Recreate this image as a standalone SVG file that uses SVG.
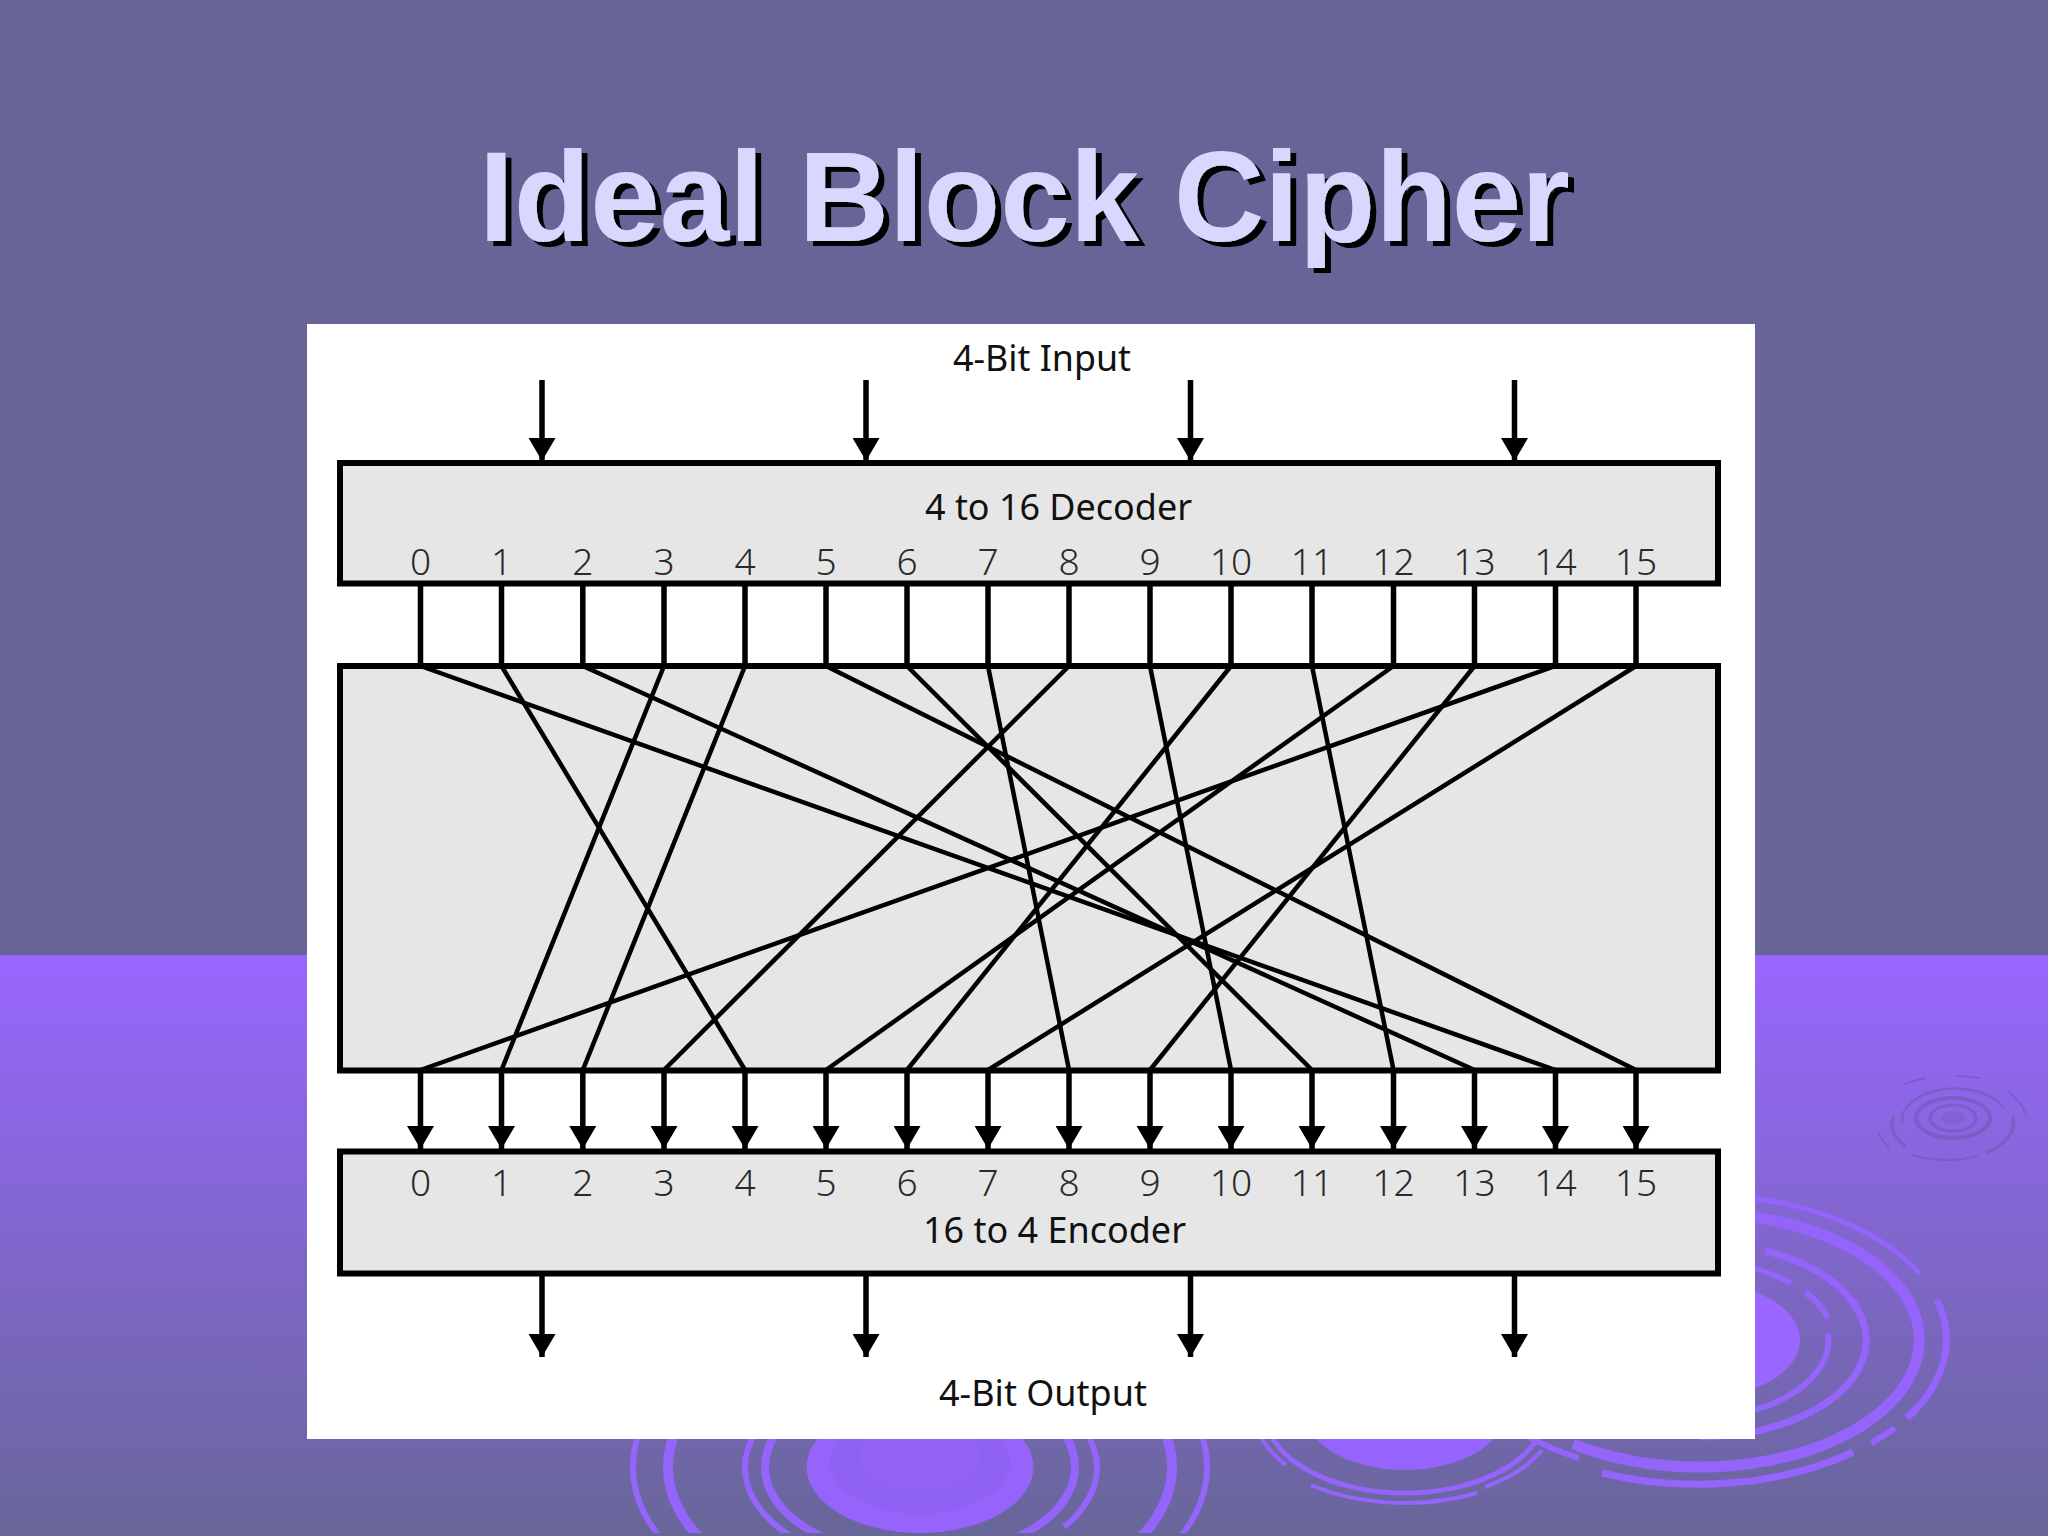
<svg xmlns="http://www.w3.org/2000/svg" width="2048" height="1536" viewBox="0 0 2048 1536">
<style>
.r{fill:none;stroke:#9564fb;stroke-linecap:butt}
.e{fill:none;stroke:#6d5ab4;stroke-linecap:round;opacity:.6}
.box{fill:#e6e6e7;stroke:#000;stroke-width:6}
.w{stroke:#000;stroke-width:5.500;fill:none}
.p{stroke:#000;stroke-width:4.500;fill:none}
.a{stroke:#000;stroke-width:5.500;fill:none;marker-end:url(#head)}
.l{font-family:"Noto Sans","Open Sans",sans-serif;font-size:37px;fill:#111}
.n{font-family:"Noto Sans","Open Sans",sans-serif;font-size:37px;font-weight:350;fill:#2a2a2a;text-anchor:middle}
.t{font-family:"Liberation Sans",Arial,sans-serif;font-weight:700;font-size:128px;fill:#d8d8ff;filter:url(#sh)}
</style>
<defs>
<linearGradient id="bg" x1="0" y1="0" x2="0" y2="1"><stop offset="0" stop-color="#9966ff"/><stop offset="1" stop-color="#686699"/></linearGradient>
<marker id="head" markerUnits="userSpaceOnUse" markerWidth="23" markerHeight="27" refX="23" refY="13.500" orient="auto"><path d="M0,0 L23,13.500 L0,27 z" fill="#000"/></marker>
<filter id="sh" x="-5%" y="-10%" width="110%" height="125%"><feOffset in="SourceAlpha" dx="6" dy="5" result="o"/><feMerge><feMergeNode in="o"/><feMergeNode in="SourceGraphic"/></feMerge></filter>
<clipPath id="cut"><rect x="0" y="0" width="2048" height="1533"/></clipPath>
</defs>
<g id="background">
<rect width="2048" height="955" fill="#676498"/>
<rect y="955" width="2048" height="581" fill="url(#bg)"/>
<g id="ripple-small">
<ellipse cx="1953" cy="1118" rx="12" ry="7" fill="#7f5fcf" opacity=".7"/>
<ellipse class="e" cx="1953" cy="1118" rx="23" ry="13" stroke-width="3"/>
<ellipse class="e" cx="1953" cy="1118" rx="37" ry="20" stroke-width="4"/>
<path class="e" stroke-width="2.500" d="M1902,1122 A53 32 0 0 1 2003,1107"/>
<path class="e" stroke-width="3" d="M1893,1118 A60 36 0 0 0 1905,1146"/>
<path class="e" stroke-width="3" d="M1988,1152 A60 36 0 0 0 2013,1118"/>
<path class="e" stroke-width="2" d="M1905,1084 A75 45 0 0 1 1925,1078 M1957,1076 A75 45 0 0 1 1979,1078 M2009,1092 A75 45 0 0 1 2025,1113 M1879,1134 A75 45 0 0 0 1889,1147 M1913,1155 A75 45 0 0 0 1977,1156"/>
</g>
<g id="ripple-middle" clip-path="url(#cut)">
<ellipse cx="920" cy="1467" rx="113.500" ry="66" fill="#9664fb"/>
<ellipse cx="920" cy="1462" rx="90" ry="52" fill="#8f62f4"/>
<ellipse cx="920" cy="1455" rx="60" ry="36" fill="#9263f6"/>
<ellipse class="r" cx="920" cy="1467" rx="287" ry="166" stroke-width="6"/>
<ellipse class="r" cx="920" cy="1467" rx="252" ry="146" stroke-width="10"/>
<path class="r" stroke-width="6" d="M1064,1527 A176 102 0 1 0 797,1540"/>
<ellipse class="r" cx="920" cy="1467" rx="155" ry="90" stroke-width="8"/>
</g>
<g id="ripple-centre">
<ellipse cx="1405" cy="1412" rx="100" ry="58" fill="#9664fb"/>
<ellipse class="r" cx="1405" cy="1412" rx="140" ry="81" stroke-width="5"/>
<path class="r" stroke-width="4" d="M1255,1412 A150 87 0 0 0 1286,1465"/>
<path class="r" stroke-width="4" d="M1542,1450 A152 88 0 0 1 1485,1487"/>
<path class="r" stroke-width="4" d="M1477,1493 A158 91 0 0 1 1311,1485"/>
</g>
<g id="ripple-right">
<ellipse cx="1700" cy="1340" rx="100" ry="58" fill="#9966ff"/>
<path class="r" stroke-width="5" d="M1700,1195 A247 145 0 0 1 1920,1274"/>
<path class="r" stroke-width="7" d="M1937,1300 A247 145 0 0 1 1907,1418"/>
<path class="r" stroke-width="6" d="M1895,1428 A247 145 0 0 1 1871,1443"/>
<path class="r" stroke-width="7" d="M1853,1452 A247 145 0 0 1 1602,1473"/>
<path class="r" stroke-width="11" d="M1700,1213 A220 127 0 1 1 1573,1444"/>
<path class="r" stroke-width="6" d="M1520,1432 A240 139 0 0 0 1579,1458"/>
<path class="r" stroke-width="7" d="M1765,1251 A168 97 0 0 1 1700,1437"/>
<path class="r" stroke-width="6" d="M1828,1333 A133 78 0 0 1 1700,1418"/>
<path class="r" stroke-width="6" d="M1805,1292 A133 78 0 0 1 1828,1318"/>
<path class="r" stroke-width="5" d="M1700,1262 A133 78 0 0 1 1791,1283"/>
</g>
</g>
<text id="title" class="t" x="479" y="241" textLength="1091" lengthAdjust="spacingAndGlyphs">Ideal Block Cipher</text>
<rect id="panel" x="307" y="324" width="1448" height="1115" fill="#fff"/>
<g id="input-label"><text class="l" x="953" y="371" textLength="178" lengthAdjust="spacingAndGlyphs">4-Bit Input</text></g>
<g id="decoder">
<rect class="box" x="340" y="463" width="1378" height="120.500"/>
<text class="l" x="925" y="520" textLength="267" lengthAdjust="spacingAndGlyphs">4 to 16 Decoder</text>
<g>
<text class="n" x="420.500" y="575">0</text><text class="n" x="501.500" y="575">1</text><text class="n" x="582.800" y="575">2</text><text class="n" x="664" y="575">3</text><text class="n" x="745" y="575">4</text><text class="n" x="826" y="575">5</text><text class="n" x="907" y="575">6</text><text class="n" x="988" y="575">7</text><text class="n" x="1069" y="575">8</text><text class="n" x="1150" y="575">9</text><text class="n" x="1231" y="575">10</text><text class="n" x="1312" y="575">11</text><text class="n" x="1393.500" y="575">12</text><text class="n" x="1474.500" y="575">13</text><text class="n" x="1555.500" y="575">14</text><text class="n" x="1636" y="575">15</text>
</g>
</g>
<g id="permutation"><rect class="box" x="340" y="666" width="1378" height="404.500"/></g>
<g id="encoder">
<rect class="box" x="340" y="1151.500" width="1378" height="122"/>
<g>
<text class="n" x="420.500" y="1196">0</text><text class="n" x="501.500" y="1196">1</text><text class="n" x="582.800" y="1196">2</text><text class="n" x="664" y="1196">3</text><text class="n" x="745" y="1196">4</text><text class="n" x="826" y="1196">5</text><text class="n" x="907" y="1196">6</text><text class="n" x="988" y="1196">7</text><text class="n" x="1069" y="1196">8</text><text class="n" x="1150" y="1196">9</text><text class="n" x="1231" y="1196">10</text><text class="n" x="1312" y="1196">11</text><text class="n" x="1393.500" y="1196">12</text><text class="n" x="1474.500" y="1196">13</text><text class="n" x="1555.500" y="1196">14</text><text class="n" x="1636" y="1196">15</text>
</g>
<text class="l" x="923" y="1243" textLength="263" lengthAdjust="spacingAndGlyphs">16 to 4 Encoder</text>
</g>
<g id="output-label"><text class="l" x="939" y="1406" textLength="208" lengthAdjust="spacingAndGlyphs">4-Bit Output</text></g>
<g id="connectors">
<g id="inputs">
<path class="a" d="M542,380V461"/><path class="a" d="M866,380V461"/><path class="a" d="M1190.500,380V461"/><path class="a" d="M1514.500,380V461"/>
</g>
<g id="wires">
<path class="w" d="M420.500,583V666M501.500,583V666M582.800,583V666M664,583V666M745,583V666M826,583V666M907,583V666M988,583V666M1069,583V666M1150,583V666M1231,583V666M1312,583V666M1393.500,583V666M1474.500,583V666M1555.500,583V666M1636,583V666"/>
</g>
<g id="mapping">
<path class="p" d="M420.500,666L1555.500,1070"/>
<path class="p" d="M501.500,666L745,1070"/>
<path class="p" d="M582.800,666L1474.500,1070"/>
<path class="p" d="M664,666L501.500,1070"/>
<path class="p" d="M745,666L582.800,1070"/>
<path class="p" d="M826,666L1636,1070"/>
<path class="p" d="M907,666L1312,1070"/>
<path class="p" d="M988,666L1069,1070"/>
<path class="p" d="M1069,666L664,1070"/>
<path class="p" d="M1150,666L1231,1070"/>
<path class="p" d="M1231,666L907,1070"/>
<path class="p" d="M1312,666L1393.500,1070"/>
<path class="p" d="M1393.500,666L826,1070"/>
<path class="p" d="M1474.500,666L1150,1070"/>
<path class="p" d="M1555.500,666L420.500,1070"/>
<path class="p" d="M1636,666L988,1070"/>
</g>
<g id="encoder-inputs">
<path class="a" d="M420.500,1071V1149"/><path class="a" d="M501.500,1071V1149"/><path class="a" d="M582.800,1071V1149"/><path class="a" d="M664,1071V1149"/><path class="a" d="M745,1071V1149"/><path class="a" d="M826,1071V1149"/><path class="a" d="M907,1071V1149"/><path class="a" d="M988,1071V1149"/><path class="a" d="M1069,1071V1149"/><path class="a" d="M1150,1071V1149"/><path class="a" d="M1231,1071V1149"/><path class="a" d="M1312,1071V1149"/><path class="a" d="M1393.500,1071V1149"/><path class="a" d="M1474.500,1071V1149"/><path class="a" d="M1555.500,1071V1149"/><path class="a" d="M1636,1071V1149"/>
</g>
<g id="outputs">
<path class="a" d="M542,1276V1357"/><path class="a" d="M866,1276V1357"/><path class="a" d="M1190.500,1276V1357"/><path class="a" d="M1514.500,1276V1357"/>
</g>
</g>
</svg>
